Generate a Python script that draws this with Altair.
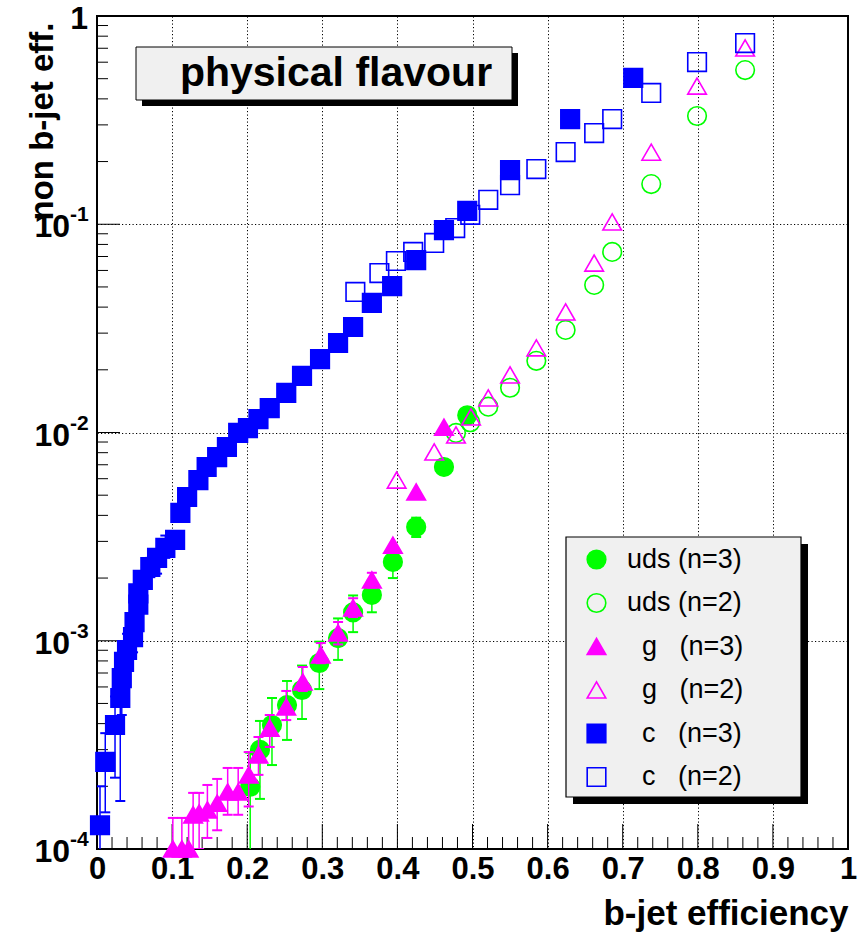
import altair as alt
import pandas as pd
import numpy as np

W, H = 751, 833
FONT = "Liberation Sans"

# ---- mistag rate vs b-jet efficiency -------------------------------------
# uds jets, n=3 (filled circles)
uds3_x = [0.204, 0.217, 0.233, 0.253, 0.273, 0.296, 0.321, 0.341, 0.366, 0.394, 0.425, 0.462, 0.493]
uds3_y = [1.99e-4, 2.99e-4, 3.94e-4, 4.91e-4, 5.80e-4, 7.82e-4, 1.03e-3, 1.37e-3, 1.66e-3, 2.39e-3, 3.52e-3, 6.83e-3, 1.21e-2]
uds3_lo = [5.0e-5, 1.74e-4, 2.53e-4, 3.34e-4, 4.21e-4, 5.86e-4, 8.09e-4, 1.10e-3, 1.37e-3, 2.00e-3, 3.15e-3]
uds3_hi = [2.90e-4, 4.12e-4, 5.31e-4, 6.41e-4, 7.60e-4, 9.90e-4, 1.28e-3, 1.65e-3, 1.95e-3, 2.75e-3, 3.90e-3]

# uds jets, n=2 (open circles)
uds2_x = [0.478, 0.497, 0.521, 0.550, 0.585, 0.624, 0.662, 0.686, 0.738, 0.799, 0.863]
uds2_y = [9.95e-3, 1.12e-2, 1.33e-2, 1.64e-2, 2.21e-2, 3.11e-2, 5.11e-2, 7.36e-2, 0.156, 0.331, 0.550]

# gluon jets, n=3 (filled triangles)
g3_x = [0.101, 0.113, 0.122, 0.128, 0.136, 0.147, 0.160, 0.174, 0.188, 0.202, 0.215, 0.230,
        0.252, 0.274, 0.298, 0.321, 0.341, 0.366, 0.394, 0.425, 0.462]
g3_y = [1.0e-4, 1.0e-4, 1.0e-4, 1.46e-4, 1.49e-4, 1.54e-4, 1.66e-4, 1.88e-4, 1.88e-4, 2.27e-4, 2.83e-4, 3.81e-4,
        4.81e-4, 6.34e-4, 8.55e-4, 1.09e-3, 1.44e-3, 1.96e-3, 2.88e-3, 5.18e-3, 1.06e-2]
g3_lo = [5.0e-5, 5.0e-5, 5.0e-5, 1.0e-4, 1.0e-4, 1.13e-4, 1.23e-4, 1.46e-4, 1.46e-4, 1.60e-4, 2.27e-4, 3.09e-4,
         4.16e-4, 5.74e-4, 7.80e-4, 9.60e-4, 1.30e-3, 1.80e-3]
g3_hi = [1.41e-4, 1.41e-4, 1.41e-4, 1.86e-4, 1.86e-4, 2.03e-4, 2.17e-4, 2.45e-4, 2.45e-4, 2.92e-4, 3.45e-4, 4.40e-4,
         5.74e-4, 7.48e-4, 9.75e-4, 1.23e-3, 1.60e-3, 2.12e-3]

# gluon jets, n=2 (open triangles)
g2_x = [0.399, 0.449, 0.478, 0.498, 0.521, 0.550, 0.585, 0.624, 0.662, 0.686, 0.738, 0.799, 0.863]
g2_y = [5.91e-3, 8.06e-3, 9.73e-3, 1.187e-2, 1.465e-2, 1.89e-2, 2.55e-2, 3.79e-2, 6.51e-2, 0.1025, 0.222, 0.461, 0.702]

# c jets, n=3 (filled squares)
c3_x = [0.004, 0.011, 0.024, 0.031, 0.033, 0.036, 0.040, 0.048, 0.050, 0.055, 0.055, 0.061, 0.071, 0.080,
        0.091, 0.104, 0.111, 0.120, 0.135, 0.146, 0.160, 0.173, 0.188, 0.201, 0.215, 0.230, 0.252, 0.273,
        0.297, 0.321, 0.341, 0.366, 0.393, 0.425, 0.462, 0.493, 0.550, 0.630, 0.714]
c3_y = [1.30e-4, 2.62e-4, 3.94e-4, 5.31e-4, 6.62e-4, 7.91e-4, 9.03e-4, 1.04e-3, 1.23e-3, 1.49e-3, 1.69e-3,
        1.96e-3, 2.26e-3, 2.50e-3, 2.79e-3, 3.05e-3, 4.11e-3, 4.90e-3, 5.91e-3, 6.83e-3, 7.62e-3, 8.52e-3,
        9.95e-3, 1.05e-2, 1.16e-2, 1.31e-2, 1.55e-2, 1.87e-2, 2.25e-2, 2.69e-2, 3.21e-2, 4.19e-2, 5.05e-2,
        6.73e-2, 9.38e-2, 0.116, 0.182, 0.320, 0.504]
c3_lo = [7.0e-5, 1.5e-4, 2.2e-4, 1.7e-4, 4.4e-4, 6.0e-4, 7.4e-4, 8.8e-4, 1.06e-3, 1.30e-3, 1.50e-3, 1.76e-3,
         2.02e-3, 2.10e-3, 2.50e-3, 2.80e-3, 3.80e-3]
c3_hi = [2.0e-4, 3.6e-4, 5.4e-4, 7.2e-4, 8.4e-4, 9.6e-4, 1.08e-3, 1.22e-3, 1.40e-3, 1.68e-3, 1.90e-3, 2.16e-3,
         2.50e-3, 2.74e-3, 3.20e-3, 3.30e-3, 4.40e-3]

# c jets, n=2 (open squares)
c2_x = [0.344, 0.376, 0.398, 0.421, 0.449, 0.477, 0.497, 0.521, 0.550, 0.585, 0.624, 0.662, 0.686, 0.738, 0.799, 0.863]
c2_y = [0.0473, 0.0583, 0.0666, 0.0736, 0.0813, 0.0959, 0.111, 0.131, 0.154, 0.184, 0.222, 0.274, 0.320, 0.427, 0.601, 0.741]

# legend labels; a zero-width space keeps the leading no-break spaces
ZW, NB = "\u200b", "\u00a0"
S_UDS3 = "uds (n=3)"
S_UDS2 = "uds (n=2)"
S_G3 = ZW + NB * 2 + "g" + NB * 3 + "(n=3)"
S_G2 = ZW + NB * 2 + "g" + NB * 3 + "(n=2)"
S_C3 = ZW + NB * 2 + "c" + NB * 3 + "(n=3)"
S_C2 = ZW + NB * 2 + "c" + NB * 3 + "(n=2)"
SERIES = [S_UDS3, S_UDS2, S_G3, S_G2, S_C3, S_C2]

GREEN, MAGENTA, BLUE = "#00ff00", "#ff00ff", "#0000ff"


def pts(xs, ys, name):
    return pd.DataFrame({"x": xs, "y": ys, "series": name})


def errs(xs, lo, hi, name):
    n = len(lo)
    return pd.DataFrame({"x": xs[:n], "y": lo, "y2": hi, "series": name})


# ---- scales, axes, legend -------------------------------------------------
xscale = alt.Scale(domain=[0, 1], nice=False, zero=False)
yscale = alt.Scale(type="log", domain=[1e-4, 1], nice=False)

x_vals = [0, 0.1, 0.2, 0.3, 0.4, 0.5, 0.6, 0.7, 0.8, 0.9, 1]
y_vals = [1e-4, 1e-3, 1e-2, 1e-1, 1]
DOTS = [1.2, 2.3]

xaxis = alt.Axis(
    values=x_vals, grid=True, gridDash=DOTS, gridColor="black", gridWidth=1, gridOpacity=1,
    ticks=False, tickSize=0, domain=False, labelFlush=False, labelOverlap=False,
    labelFont=FONT, labelFontWeight="bold", labelFontSize=31, labelColor="black", labelPadding=5,
    labelExpr="datum.value == 0 ? '0' : datum.value == 1 ? '1' : format(datum.value, '.1f')",
    title="b-jet efficiency", titleFont=FONT, titleFontSize=35, titleFontWeight="bold", titleColor="black",
    titleX=W, titleY=75, titleAlign="right", titleBaseline="alphabetic",
)
yaxis = alt.Axis(
    values=y_vals, grid=True, gridDash=DOTS, gridColor="black", gridWidth=1, gridOpacity=1,
    ticks=False, tickSize=0, domain=False, labels=False,
    title="non b-jet eff.", titleFont=FONT, titleFontSize=33, titleFontWeight="bold", titleColor="black",
    titleX=-55, titleY=6, titleAngle=270, titleAlign="right", titleBaseline="middle",
)

legend = alt.Legend(
    orient="none", legendX=486, legendY=530, title=None, padding=0,
    labelFont=FONT, labelFontSize=27, labelColor="black", labelOffset=17, rowPadding=15.5,
    symbolStrokeWidth=1.6, labelLimit=400,
)


def X(field="x"):
    return alt.X(f"{field}:Q", scale=xscale, axis=xaxis)


def Y(field="y"):
    return alt.Y(f"{field}:Q", scale=yscale, axis=yaxis)


def stroke_enc():
    return alt.Stroke("series:N", scale=alt.Scale(domain=SERIES, range=[GREEN, GREEN, MAGENTA, MAGENTA, BLUE, BLUE]),
                      legend=legend)


def point_layer(df):
    return alt.Chart(df).mark_point(strokeWidth=1.6, opacity=1).encode(
        x=X(), y=Y(),
        shape=alt.Shape("series:N", scale=alt.Scale(domain=SERIES,
                        range=["circle", "circle", "triangle-up", "triangle-up", "square", "square"]), legend=legend),
        fill=alt.Fill("series:N", scale=alt.Scale(domain=SERIES,
                      range=[GREEN, "transparent", MAGENTA, "transparent", BLUE, "transparent"]), legend=legend),
        size=alt.Size("series:N", scale=alt.Scale(domain=SERIES, range=[346, 346, 484, 484, 400, 400]), legend=legend),
        stroke=stroke_enc(),
    )


def error_layers(df):
    bar = alt.Chart(df).mark_rule(strokeWidth=1.5, clip=True).encode(
        x=X(), y=Y(), y2="y2:Q", stroke=stroke_enc())
    cap_lo = alt.Chart(df).mark_point(shape="stroke", size=100, strokeWidth=2, clip=True, opacity=1).encode(
        x=X(), y=Y(), stroke=stroke_enc())
    cap_hi = alt.Chart(df).mark_point(shape="stroke", size=100, strokeWidth=2, clip=True, opacity=1).encode(
        x=X(), y=alt.Y("y2:Q", scale=yscale, axis=yaxis), stroke=stroke_enc())
    return [bar, cap_lo, cap_hi]


one = alt.Data(values=[{"k": 1}])

# ---- decorations: title box and legend box (with drop shadows) -----------
title_df = pd.DataFrame({"t": ["physical flavour"]})
title_shadow = alt.Chart(one).mark_rect(color="black").encode(
    x=alt.value(45), x2=alt.value(421), y=alt.value(37), y2=alt.value(90))
title_box = alt.Chart(one).mark_rect(fill="#f0f0f0", stroke="black", strokeWidth=1).encode(
    x=alt.value(39), x2=alt.value(415), y=alt.value(31), y2=alt.value(84))
title_text = alt.Chart(title_df).mark_text(
    font=FONT, fontSize=41, fontWeight="bold", color="black", align="center", baseline="middle").encode(
    x=alt.value(239), y=alt.value(58), text="t:N")

legend_shadow = alt.Chart(one).mark_rect(color="black").encode(
    x=alt.value(476), x2=alt.value(711), y=alt.value(528), y2=alt.value(788))
legend_box = alt.Chart(one).mark_rect(fill="#f0f0f0", stroke="black", strokeWidth=1.2).encode(
    x=alt.value(469), x2=alt.value(704), y=alt.value(521), y2=alt.value(781))

# ---- inward ticks ----------------------------------------------------------
x_major = pd.DataFrame({"x": [0.1, 0.2, 0.3, 0.4, 0.5, 0.6, 0.7, 0.8, 0.9]})
x_minor = pd.DataFrame({"x": [round(v, 2) for v in np.arange(0.02, 1.0, 0.02) if round(v * 50) % 5 != 0]})
y_major = pd.DataFrame({"y": [1e-3, 1e-2, 1e-1]})
y_minor = pd.DataFrame({"y": [k * 10.0 ** e for e in range(-4, 0) for k in range(2, 10)]})

tick_xM = alt.Chart(x_major).mark_rule(color="black", strokeWidth=1).encode(
    x=X(), y=alt.value(H), y2=alt.value(H - 25))
tick_xm = alt.Chart(x_minor).mark_rule(color="black", strokeWidth=1).encode(
    x=X(), y=alt.value(H), y2=alt.value(H - 12))
tick_yM = alt.Chart(y_major).mark_rule(color="black", strokeWidth=1).encode(
    y=Y(), x=alt.value(0), x2=alt.value(23))
tick_ym = alt.Chart(y_minor).mark_rule(color="black", strokeWidth=1).encode(
    y=Y(), x=alt.value(0), x2=alt.value(11))

# ---- y tick labels as powers of ten ---------------------------------------
ylab = pd.DataFrame({"y": [1e-4, 1e-3, 1e-2, 1e-1, 1.0],
                     "b": ["10", "10", "10", "10", "1"],
                     "e": ["-4", "-3", "-2", "-1", ""]})
ylab_base = alt.Chart(ylab).transform_filter("datum.e != ''").mark_text(
    font=FONT, fontSize=32, fontWeight="bold", color="black", align="right", baseline="middle", dy=3).encode(
    y=Y(), x=alt.value(-27), text="b:N")
ylab_exp = alt.Chart(ylab).transform_filter("datum.e != ''").mark_text(
    font=FONT, fontSize=21, fontWeight="bold", color="black", align="left", baseline="middle", dy=-9).encode(
    y=Y(), x=alt.value(-27), text="e:N")
ylab_one = alt.Chart(ylab).transform_filter("datum.e == ''").mark_text(
    font=FONT, fontSize=32, fontWeight="bold", color="black", align="right", baseline="middle", dy=3).encode(
    y=Y(), x=alt.value(-9), text="b:N")

uds_pts = pd.concat([pts(uds3_x, uds3_y, S_UDS3), pts(uds2_x, uds2_y, S_UDS2)])
g_pts = pd.concat([pts(g3_x, g3_y, S_G3), pts(g2_x, g2_y, S_G2)])
c_pts = pd.concat([pts(c3_x, c3_y, S_C3), pts(c2_x, c2_y, S_C2)])

layers = [legend_shadow, legend_box, title_shadow, title_box, title_text,
          tick_xM, tick_xm, tick_yM, tick_ym]
layers += error_layers(errs(uds3_x, uds3_lo, uds3_hi, S_UDS3)) + [point_layer(uds_pts)]
layers += error_layers(errs(g3_x, g3_lo, g3_hi, S_G3)) + [point_layer(g_pts)]
layers += error_layers(errs(c3_x, c3_lo, c3_hi, S_C3)) + [point_layer(c_pts)]
layers += [ylab_base, ylab_exp, ylab_one]

chart = alt.layer(*layers).properties(
    width=W, height=H,
    padding={"left": 97, "top": 16, "right": 17, "bottom": 85},
    autosize=alt.AutoSizeParams(type="none"),
    background="white",
).configure_view(stroke="black", strokeWidth=2)

chart.save("out.html", embed_options={"renderer": "svg", "actions": False})
